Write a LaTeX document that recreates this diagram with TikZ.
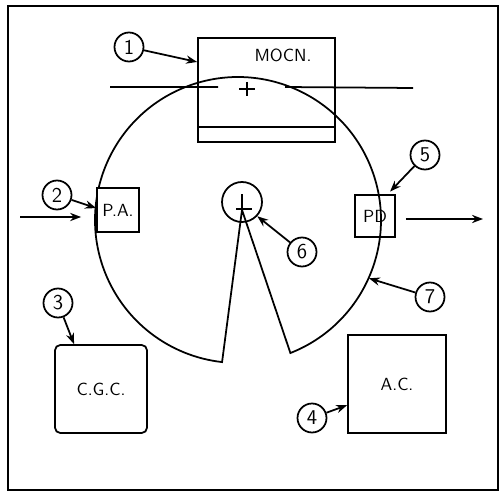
\documentclass[tikz,border=0pt]{standalone}
\usepackage{xcolor}
\usepackage{tikz}
\usetikzlibrary{shapes.geometric,arrows.meta,positioning,calc}
\tikzset{
    unitbox/.style={rectangle, draw, line width=1pt, inner sep=0pt, align=center, font=\sffamily},
    marker/.style={circle, draw, line width=1pt, minimum size=0.58cm, inner sep=0pt, font=\sffamily\large},
    flow/.style={-{Stealth[length=2.2mm]}, line width=1pt},
    frame/.style={draw, line width=1.1pt},
}

\begin{document}
\begin{tikzpicture}[x=0.02cm, y=-0.02cm]
    \useasboundingbox (0,0) rectangle (503,493);
    \draw[frame] (8,6) rectangle (498,490);

    % wheel and hub
    \node[circle, minimum size=5.72cm, inner sep=0pt] (wheel) at (238,220) {};
    \node[circle, draw, line width=1pt, minimum size=0.8cm, inner sep=0pt] (hub) at (242,202) {};
    \coordinate (apex) at (242,210);
    \draw[line width=1pt] (wheel.center) ++(-68.5:2.86cm)
        arc[start angle=-68.5, end angle=263.6, radius=2.86cm] -- (apex) -- cycle;
    \draw[line width=1pt] (236,209) -- (252,209) (242,194) -- (242,214);

    % units
    \node[unitbox, minimum width=2.74cm, minimum height=2.08cm,
          label={[anchor=north, xshift=0.33cm, yshift=-0.12cm, font=\sffamily]north:MOCN.}]
          (mocn) at (266.5,90) {};
    \draw[line width=1pt] (mocn.west |- 0,127) -- (mocn.east |- 0,127);
    \draw[line width=1pt] (110,87) -- (218,87) (285,87) -- (413,88);
    \draw[line width=1pt] (239,89) -- (255,89) (247,82) -- (247,96);

    \node[unitbox, fill=white, minimum width=0.84cm, minimum height=0.88cm] (pa) at (118,210) {P.A.};
    \node[unitbox, minimum width=0.8cm, minimum height=0.84cm] (pd) at (375,216) {PD};
    \node[unitbox, rounded corners=3pt, minimum width=1.84cm, minimum height=1.76cm] (cgc) at (101,389) {C.G.C.};
    \node[unitbox, minimum width=1.96cm, minimum height=1.96cm] (ac) at (397,384) {A.C.};

    % numbered markers
    \node[marker] (n1) at (129,47) {1};
    \node[marker] (n2) at (57,195) {2};
    \node[marker] (n3) at (58,303) {3};
    \node[marker] (n4) at (312,418) {4};
    \node[marker] (n5) at (425,155) {5};
    \node[marker] (n6) at (302,252) {6};
    \node[marker] (n7) at (430,297) {7};

    \coordinate (inS) at (20,217);
    \coordinate (outE) at (483,219);

    \draw[flow] (n1) -- (mocn.158);
    \draw[flow] (n2) -- (pa.175);
    \draw[flow] (n3) -- (cgc.121);
    \draw[flow] (n4) -- (ac.203);
    \draw[flow, shorten >=2pt] (n5) -- (pd.60);
    \draw[flow] (n6) -- (hub.-43);
    \draw[flow] (n7) -- (wheel.-24);
    \draw[flow, shorten >=0.3cm] (inS) -- (pa.west |- inS);
    \draw[flow, shorten <=0.2cm] (pd.east |- outE) -- (outE);
\end{tikzpicture}
\end{document}
